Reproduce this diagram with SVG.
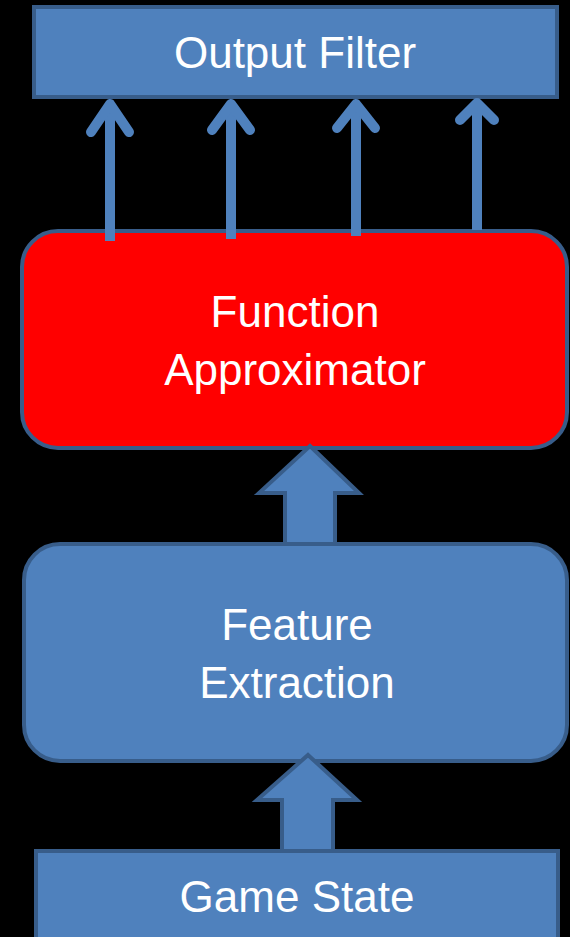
<svg xmlns="http://www.w3.org/2000/svg" width="570" height="937" viewBox="0 0 570 937">
<style>
.box{fill:#4F81BD;stroke:#385D8A;stroke-width:4}
.red{fill:#FF0000;stroke:#385D8A;stroke-width:4}
.lbl{fill:#FFFFFF;font-family:"Liberation Sans",Arial,sans-serif;font-size:44px;text-anchor:middle}
.thin{fill:none;stroke:#4F81BD;stroke-width:10;stroke-linecap:butt;stroke-linejoin:miter}
.head{fill:none;stroke:#4F81BD;stroke-width:10;stroke-linecap:round;stroke-linejoin:round}
.block{fill:#4F81BD;stroke:#385D8A;stroke-width:4;stroke-linejoin:miter}
</style>
<rect x="0" y="0" width="570" height="937" fill="#000000"/>
<g id="output-filter">
<rect class="box" x="34" y="7" width="523" height="90"/>
<text class="lbl" x="295" y="68">Output Filter</text>
</g>
<g id="function-approximator">
<rect class="red" x="22" y="231" width="545" height="217" rx="36" ry="36"/>
<text class="lbl" x="295" y="327">Function</text>
<text class="lbl" x="295" y="385">Approximator</text>
</g>
<g id="feature-extraction">
<rect class="box" x="24" y="544" width="543" height="217" rx="36" ry="36"/>
<text class="lbl" x="297" y="640">Feature</text>
<text class="lbl" x="297" y="698">Extraction</text>
</g>
<g id="game-state">
<rect class="box" x="36" y="851" width="522" height="100"/>
<text class="lbl" x="297" y="912">Game State</text>
</g>
<g id="connectors">
<path class="thin" d="M110,241 V106"/>
<path class="thin" d="M231,239 V106"/>
<path class="thin" d="M356,236 V106"/>
<path class="thin" d="M477,230 V106"/>
<path class="head" d="M91,132 L110,104 L129,132"/>
<path class="head" d="M212,130 L231,104 L250,130"/>
<path class="head" d="M337,128 L356,104 L375,128"/>
<path class="head" d="M460,120 L477,103 L494,120"/>
<path class="block" d="M310,446 L359,493 L335,493 L335,544 L285,544 L285,493 L259,493 Z"/>
<path class="block" d="M308,755 L357,800 L333,800 L333,851 L282,851 L282,800 L257,800 Z"/>
</g>
</svg>
